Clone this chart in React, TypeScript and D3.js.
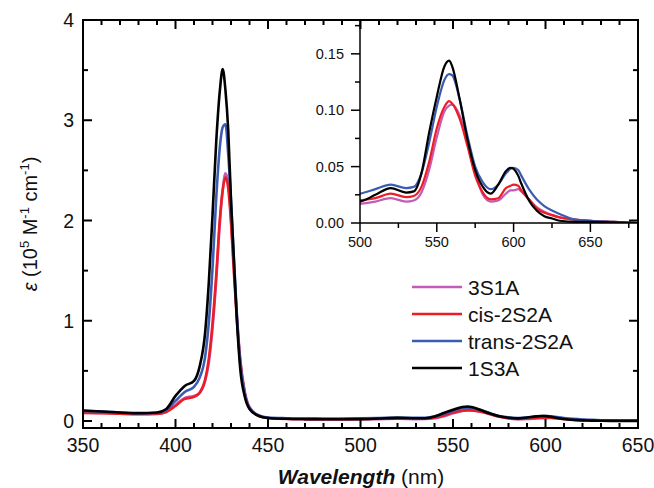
import React from "react";
import * as d3 from "d3";

// wavelengths (nm) shared by all four spectra
const wavelengths = [
  350, 360, 370, 380, 390, 395, 400, 405, 410, 413, 416, 418, 420, 422, 424, 425.5, 427, 428.5, 430, 431.5,
  433, 435, 437.5, 440, 445, 450, 460, 470, 480, 490, 500, 510, 520, 530, 535, 540, 545, 550, 555, 558,
  560, 565, 570, 575, 580, 585, 590, 595, 598, 600, 603, 605, 610, 615, 620, 625, 630, 640, 650, 665, 681,
];

// epsilon in 10^5 M-1 cm-1
const s3S1A = [
  0.085, 0.08, 0.074, 0.07, 0.072, 0.092, 0.16, 0.23, 0.25, 0.28, 0.4, 0.58, 0.92, 1.4, 1.98, 2.3, 2.47, 2.38, 2.02, 1.55,
  1.1, 0.62, 0.29, 0.14, 0.055, 0.03, 0.02, 0.017, 0.016, 0.016, 0.017, 0.019, 0.022, 0.019, 0.02, 0.027, 0.047, 0.076, 0.099, 0.104,
  0.105, 0.095, 0.071, 0.045, 0.025, 0.019, 0.02, 0.026, 0.029, 0.029, 0.03, 0.028, 0.021, 0.014, 0.01, 0.007, 0.005, 0.003, 0.002, 0.001, 0,
];
const cis2S2A = [
  0.08, 0.078, 0.072, 0.068, 0.07, 0.09, 0.15, 0.22, 0.24, 0.28, 0.41, 0.62, 0.97, 1.45, 2.02, 2.3, 2.43, 2.32, 1.98, 1.5,
  1.06, 0.6, 0.27, 0.13, 0.05, 0.03, 0.022, 0.019, 0.018, 0.018, 0.02, 0.022, 0.026, 0.023, 0.024, 0.032, 0.054, 0.084, 0.103, 0.108,
  0.106, 0.092, 0.068, 0.042, 0.027, 0.021, 0.022, 0.031, 0.033, 0.034, 0.033, 0.029, 0.021, 0.013, 0.009, 0.007, 0.005, 0.003, 0.002, 0.001, 0,
];
const trans2S2A = [
  0.1, 0.095, 0.085, 0.076, 0.08, 0.11, 0.2, 0.29, 0.34, 0.43, 0.64, 0.98, 1.52, 2.22, 2.74, 2.93, 2.96, 2.66, 2.2, 1.65,
  1.12, 0.58, 0.27, 0.13, 0.055, 0.035, 0.028, 0.025, 0.024, 0.024, 0.026, 0.03, 0.034, 0.031, 0.032, 0.044, 0.071, 0.103, 0.127, 0.132,
  0.131, 0.109, 0.077, 0.05, 0.036, 0.03, 0.034, 0.044, 0.048, 0.049, 0.047, 0.042, 0.03, 0.021, 0.015, 0.011, 0.008, 0.003, 0.002, 0.001, 0,
];
const s1S3A = [
  0.105, 0.095, 0.085, 0.078, 0.085, 0.12, 0.25, 0.35, 0.4, 0.54, 0.88, 1.38, 2.05, 2.78, 3.3, 3.51, 3.3, 2.9, 2.2, 1.63,
  1.07, 0.52, 0.24, 0.12, 0.05, 0.03, 0.022, 0.019, 0.018, 0.018, 0.019, 0.025, 0.031, 0.027, 0.028, 0.044, 0.08, 0.112, 0.139, 0.144,
  0.139, 0.109, 0.074, 0.047, 0.032, 0.026, 0.034, 0.046, 0.049, 0.048, 0.042, 0.035, 0.02, 0.011, 0.006, 0.004, 0.002, 0.001, 0.001, 0.0005, 0,
];

const seriesNames = ["3S1A", "cis-2S2A", "trans-2S2A", "1S3A"];
const seriesValues = [s3S1A, cis2S2A, trans2S2A, s1S3A];
const seriesColors = ["#c25cb6", "#ee1c25", "#3b5cb4", "#000000"];

const xTicksMain = [350, 400, 450, 500, 550, 600, 650];
const yTicksMain = [0, 1, 2, 3, 4];
const xTicksInset = [500, 550, 600, 650];
const yTicksInset = [0, 0.05, 0.1, 0.15];

const W = 654;
const H = 488;
const font = "'Liberation Sans', Arial, Helvetica, sans-serif";

export default function App() {
  // main plot
  const x = d3.scaleLinear().domain([350, 650]).range([83, 638]);
  const y = d3.scaleLinear().domain([-0.07, 4]).range([428, 20]);
  // inset
  const xi = d3.scaleLinear().domain([500, 681]).range([360, 638]);
  const yi = d3.scaleLinear().domain([0, 0.18]).range([223, 20]);

  const lineMain = (vals: number[]) =>
    d3.line<number>().x((_, i) => x(wavelengths[i])).y((v) => y(v)).curve(d3.curveMonotoneX)(vals) || "";
  const lineInset = (vals: number[]) =>
    d3.line<number>().x((_, i) => xi(wavelengths[i])).y((v) => yi(v)).curve(d3.curveMonotoneX)(vals) || "";

  const [x0, x1] = x.range();
  const [yb, yt] = y.range();
  const xMinor = d3.range(350, 651, 10);
  const yMinor = d3.range(0, 4.01, 0.5);
  const xiMinor = d3.range(500, 676, 25);
  const yiMinor = d3.range(0, 0.176, 0.025);

  return (
    <svg width={W} height={H} style={{ position: "absolute", left: 0, top: 0, background: "#fff" }} fontFamily={font}>
      <defs>
        <clipPath id="clipMain">
          <rect x={x0} y={yt} width={x1 - x0} height={yb - yt} />
        </clipPath>
        <clipPath id="clipInset">
          <rect x={360} y={20} width={278} height={203} />
        </clipPath>
      </defs>

      {/* main spectra */}
      <g clipPath="url(#clipMain)" fill="none">
        {seriesValues.map((vals, k) => (
          <path key={k} d={lineMain(vals)} stroke={seriesColors[k]} strokeWidth={2.6} strokeLinejoin="round" />
        ))}
      </g>

      {/* legend */}
      {seriesNames.map((name, k) => (
        <g key={name} transform={`translate(0,${287 + k * 27})`}>
          <line x1={412} x2={462} y1={0} y2={0} stroke={seriesColors[k]} strokeWidth={2.6} />
          <text x={468} y={7.5} fontSize={21} fill="#111">
            {name}
          </text>
        </g>
      ))}

      {/* inset */}
      <rect x={360} y={20} width={278} height={203} fill="#fff" />
      <g clipPath="url(#clipInset)" fill="none">
        {seriesValues.map((vals, k) => (
          <path key={k} d={lineInset(vals)} stroke={seriesColors[k]} strokeWidth={2.2} strokeLinejoin="round" />
        ))}
      </g>
      <g stroke="#000" strokeWidth={1.5}>
        <line x1={360} x2={360} y1={20} y2={223} />
        <line x1={360} x2={638} y1={223} y2={223} />
        {xiMinor.map((t) => {
          const major = t % 50 === 0;
          return <line key={"xi" + t} x1={xi(t)} x2={xi(t)} y1={223} y2={223 + (major ? 9 : 5)} />;
        })}
        {yiMinor.map((t, i) => {
          const major = i % 2 === 0;
          return <line key={"yi" + i} x1={360} x2={360 - (major ? 9 : 5)} y1={yi(t)} y2={yi(t)} />;
        })}
      </g>
      {xTicksInset.map((t) => (
        <text key={"xil" + t} x={xi(t)} y={247} fontSize={14.5} textAnchor="middle" fill="#111">
          {t}
        </text>
      ))}
      {yTicksInset.map((t) => (
        <text key={"yil" + t} x={344} y={yi(t)} dy="0.36em" fontSize={14.5} textAnchor="end" fill="#111">
          {t.toFixed(2)}
        </text>
      ))}

      {/* main frame and ticks (mirrored, inward) */}
      <g stroke="#000" strokeWidth={2}>
        <rect x={x0} y={yt} width={x1 - x0} height={yb - yt} fill="none" />
        {xMinor.map((t) => {
          const len = t % 50 === 0 ? 9 : 5;
          return (
            <g key={"xm" + t}>
              <line x1={x(t)} x2={x(t)} y1={yb} y2={yb - len} />
              <line x1={x(t)} x2={x(t)} y1={yt} y2={yt + len} />
            </g>
          );
        })}
        {yMinor.map((t, i) => {
          const len = i % 2 === 0 ? 9 : 5;
          return (
            <g key={"ym" + i}>
              <line x1={x0} x2={x0 + len} y1={y(t)} y2={y(t)} />
              <line x1={x1} x2={x1 - len} y1={y(t)} y2={y(t)} />
            </g>
          );
        })}
      </g>
      {xTicksMain.map((t) => (
        <text key={"xl" + t} x={x(t)} y={452} fontSize={19.5} textAnchor="middle" fill="#111">
          {t}
        </text>
      ))}
      {yTicksMain.map((t) => (
        <text key={"yl" + t} x={74} y={y(t)} dy="0.36em" fontSize={19.5} textAnchor="end" fill="#111">
          {t}
        </text>
      ))}

      {/* axis titles */}
      <text x={361} y={484} fontSize={21} textAnchor="middle" fill="#111">
        <tspan fontWeight="bold" fontStyle="italic">Wavelength</tspan>
        <tspan> (nm)</tspan>
      </text>
      <text transform="translate(37,224) rotate(-90)" fontSize={20} textAnchor="middle" fill="#111">
        <tspan fontStyle="italic">ε</tspan>
        <tspan> (10</tspan>
        <tspan fontSize={13} dy={-8}>5</tspan>
        <tspan dy={8}> M</tspan>
        <tspan fontSize={13} dy={-8}>-1</tspan>
        <tspan dy={8}> cm</tspan>
        <tspan fontSize={13} dy={-8}>-1</tspan>
        <tspan dy={8}>)</tspan>
      </text>
    </svg>
  );
}
